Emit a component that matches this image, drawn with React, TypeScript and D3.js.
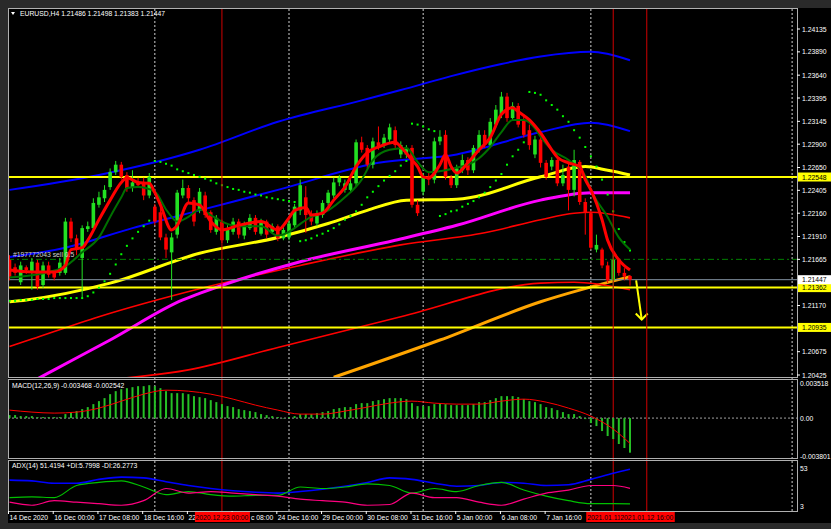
import React from "react";
import * as d3 from "d3";

// ---------- DATA ----------
const symbolTitle = "EURUSD,H4  1.21486 1.21498 1.21383 1.21447";
const macdTitle = "MACD(12,26,9) -0.003468 -0.002542";
const adxTitle = "ADX(14) 51.4194 +DI:5.7998 -DI:26.2773";
const orderLabel = "#197772043 sell 0.5";

const openP = [
  1.2166, 1.2158, 1.2142, 1.2158, 1.2152, 1.2163, 1.2139, 1.2160, 1.2152, 1.2152,
  1.2152, 1.2207, 1.2189, 1.2168, 1.2199, 1.2200, 1.2225, 1.2232, 1.2244, 1.2260,
  1.2268, 1.2257, 1.2243, 1.2249, 1.2249, 1.2235, 1.2223, 1.2217, 1.2190, 1.2174,
  1.2193, 1.2235, 1.2243, 1.2230, 1.2219, 1.2235, 1.2217, 1.2196, 1.2207, 1.2187,
  1.2196, 1.2207, 1.2192, 1.2200, 1.2211, 1.2194, 1.2207, 1.2196, 1.2202, 1.2189,
  1.2190, 1.2203, 1.2219, 1.2233, 1.2214, 1.2205, 1.2214, 1.2227, 1.2235, 1.2249,
  1.2241, 1.2241, 1.2248, 1.2292, 1.2286, 1.2268, 1.2292, 1.2289, 1.2295, 1.2305,
  1.2279, 1.2279, 1.2286, 1.2225, 1.2239, 1.2255, 1.2252, 1.2293, 1.2300, 1.2254,
  1.2246, 1.2262, 1.2273, 1.2262, 1.2284, 1.2300, 1.2289, 1.2311, 1.2322, 1.2341,
  1.2318, 1.2331, 1.2316, 1.2305, 1.2279, 1.2295, 1.2270, 1.2266, 1.2273, 1.2248,
  1.2266, 1.2241, 1.2271, 1.2228, 1.2216, 1.2177, 1.2177, 1.2160, 1.2144, 1.2166,
  1.2152, 1.21486,
];
const highP = [
  1.2171, 1.2162, 1.2164, 1.2160, 1.2168, 1.2166, 1.2164, 1.2164, 1.2155, 1.2168,
  1.2211, 1.2211, 1.2193, 1.2203, 1.2207, 1.2232, 1.2239, 1.2246, 1.2264, 1.2272,
  1.2271, 1.2260, 1.2262, 1.2254, 1.2254, 1.2259, 1.2226, 1.2222, 1.2194, 1.2195,
  1.2241, 1.2252, 1.2246, 1.2233, 1.2243, 1.2239, 1.2219, 1.2214, 1.2209, 1.2203,
  1.2211, 1.2210, 1.2207, 1.2215, 1.2214, 1.2210, 1.2209, 1.2205, 1.2204, 1.2201,
  1.2209, 1.2226, 1.2252, 1.2245, 1.2219, 1.2219, 1.2230, 1.2241, 1.2254, 1.2257,
  1.2252, 1.2254, 1.2295, 1.2298, 1.2289, 1.2297, 1.2309, 1.2301, 1.2312, 1.2309,
  1.2293, 1.2289, 1.2289, 1.2230, 1.2259, 1.2260, 1.2297, 1.2305, 1.2305, 1.2257,
  1.2268, 1.2279, 1.2276, 1.2289, 1.2305, 1.2305, 1.2318, 1.2332, 1.2346, 1.2345,
  1.2335, 1.2334, 1.2322, 1.2311, 1.2299, 1.2299, 1.2273, 1.2276, 1.2276, 1.2268,
  1.2269, 1.2284, 1.2273, 1.2232, 1.2219, 1.2193, 1.2179, 1.2164, 1.2173, 1.2168,
  1.2157, 1.21498,
];
const lowP = [
  1.2144, 1.2149, 1.2139, 1.2151, 1.2134, 1.2134, 1.2136, 1.2147, 1.2144, 1.2149,
  1.2150, 1.2185, 1.2171, 1.2126, 1.2196, 1.2198, 1.2222, 1.2228, 1.2241, 1.2257,
  1.2252, 1.2239, 1.2239, 1.2243, 1.2230, 1.2232, 1.2203, 1.2187, 1.2168, 1.2123,
  1.2189, 1.2232, 1.2228, 1.2202, 1.2216, 1.2211, 1.2195, 1.2193, 1.2184, 1.2184,
  1.2193, 1.2189, 1.2188, 1.2198, 1.2193, 1.2192, 1.2189, 1.2194, 1.2186, 1.2187,
  1.2187, 1.2200, 1.2214, 1.2195, 1.2203, 1.2202, 1.2211, 1.2224, 1.2232, 1.2245,
  1.2238, 1.2238, 1.2245, 1.2281, 1.2264, 1.2264, 1.2284, 1.2286, 1.2292, 1.2286,
  1.2275, 1.2275, 1.2222, 1.2213, 1.2235, 1.2246, 1.2248, 1.2289, 1.2252, 1.2243,
  1.2243, 1.2259, 1.2257, 1.2259, 1.2281, 1.2286, 1.2286, 1.2308, 1.2318, 1.2314,
  1.2315, 1.2308, 1.2297, 1.2284, 1.2275, 1.2265, 1.2252, 1.2262, 1.2245, 1.2245,
  1.2219, 1.2234, 1.2225, 1.2193, 1.2177, 1.2174, 1.2157, 1.2141, 1.2134, 1.2149,
  1.2144, 1.21383,
];
const closeP = [
  1.2148, 1.2152, 1.2160, 1.2155, 1.2164, 1.2137, 1.2160, 1.2150, 1.2147, 1.2163,
  1.2207, 1.2189, 1.2177, 1.2200, 1.2202, 1.2227, 1.2233, 1.2241, 1.2260, 1.2268,
  1.2255, 1.2243, 1.2249, 1.2246, 1.2235, 1.2255, 1.2207, 1.2190, 1.2177, 1.2190,
  1.2238, 1.2243, 1.2232, 1.2207, 1.2239, 1.2214, 1.2198, 1.2211, 1.2187, 1.2200,
  1.2207, 1.2193, 1.2203, 1.2211, 1.2196, 1.2207, 1.2193, 1.2202, 1.2189, 1.2198,
  1.2205, 1.2223, 1.2246, 1.2214, 1.2207, 1.2216, 1.2227, 1.2238, 1.2249, 1.2254,
  1.2248, 1.2248, 1.2292, 1.2284, 1.2268, 1.2293, 1.2288, 1.2297, 1.2308, 1.2289,
  1.2289, 1.2286, 1.2225, 1.2216, 1.2255, 1.2252, 1.2293, 1.2298, 1.2255, 1.2246,
  1.2264, 1.2273, 1.2262, 1.2286, 1.2300, 1.2289, 1.2314, 1.2327, 1.2341, 1.2318,
  1.2331, 1.2311, 1.2300, 1.2289, 1.2295, 1.2270, 1.2255, 1.2273, 1.2248, 1.2257,
  1.2241, 1.2273, 1.2228, 1.2217, 1.2179, 1.2182, 1.2160, 1.2144, 1.2166, 1.2152,
  1.2148, 1.21447,
];

// moving averages read at selected bars
const fastMaBars = [0, 4, 8, 10, 11, 13, 14, 16, 18, 20, 21, 23, 25, 26, 27, 29, 30, 32, 34, 36, 38, 41, 45, 48, 50, 51, 53, 54, 56, 58, 60, 62, 64, 66, 69, 70, 72, 73, 74, 75, 77, 78, 79, 80, 82, 84, 86, 88, 90, 91, 93, 95, 97, 98, 100, 102, 103, 104, 106, 107, 109, 111];
const fastMaVals = [1.2155, 1.2153, 1.2153, 1.2160, 1.2177, 1.2179, 1.2187, 1.2209, 1.2230, 1.2249, 1.2254, 1.2249, 1.2248, 1.2238, 1.2225, 1.2198, 1.2203, 1.2227, 1.2225, 1.2207, 1.2198, 1.2203, 1.2207, 1.2198, 1.2211, 1.2219, 1.2222, 1.2214, 1.2216, 1.2230, 1.2244, 1.2266, 1.2281, 1.2287, 1.2292, 1.2287, 1.2273, 1.2266, 1.2255, 1.2254, 1.2268, 1.2279, 1.2266, 1.2259, 1.2270, 1.2284, 1.2297, 1.2322, 1.2329, 1.2325, 1.2316, 1.2302, 1.2284, 1.2276, 1.2270, 1.2266, 1.2252, 1.2241, 1.2209, 1.2187, 1.2166, 1.2155];
const slowMaBars = [0, 7, 10, 13, 16, 18, 20, 21, 23, 26, 28, 29, 30, 32, 34, 36, 38, 41, 45, 48, 54, 57, 60, 63, 65, 68, 71, 73, 75, 78, 80, 82, 84, 86, 88, 90, 92, 94, 95, 97, 100, 103, 104, 107, 109, 111];
const slowMaVals = [1.2147, 1.2153, 1.2159, 1.2174, 1.2190, 1.2212, 1.2233, 1.2243, 1.2244, 1.2239, 1.2220, 1.2212, 1.2207, 1.2212, 1.2220, 1.2214, 1.2207, 1.2202, 1.2202, 1.2192, 1.2212, 1.2219, 1.2233, 1.2252, 1.2273, 1.2284, 1.2286, 1.2271, 1.2260, 1.2262, 1.2265, 1.2268, 1.2275, 1.2287, 1.2303, 1.2316, 1.2316, 1.2307, 1.2298, 1.2284, 1.2273, 1.2256, 1.2241, 1.2212, 1.2190, 1.2177];

const upperBlueBars = [0, 16, 34, 48, 63, 70, 79, 88, 95, 104, 111];
const upperBlueVals = [1.2241, 1.2257, 1.2284, 1.2314, 1.2337, 1.2348, 1.2363, 1.2376, 1.2384, 1.2389, 1.2380];
const lowerBlueBars = [0, 10, 22, 34, 48, 66, 80, 95, 104, 111];
const lowerBlueVals = [1.2169, 1.2179, 1.2200, 1.2219, 1.2241, 1.2270, 1.2279, 1.2303, 1.2313, 1.2304];
const yellowBars = [0, 3, 18, 34, 48, 57, 64, 71, 80, 95, 103, 107, 111];
const yellowVals = [1.2121, 1.2123, 1.2141, 1.2173, 1.2190, 1.2205, 1.2219, 1.2230, 1.2231, 1.2255, 1.2266, 1.2262, 1.2257];
const magentaBars = [3, 8, 18, 31, 34, 52, 69, 80, 95, 104, 111];
const magentaVals = [1.2032, 1.2048, 1.2080, 1.2123, 1.2130, 1.2164, 1.2187, 1.2203, 1.2230, 1.2238, 1.2238];
const redUpperBars = [0, 4, 16, 34, 52, 70, 85, 95, 101, 104, 111];
const redUpperVals = [1.2073, 1.2081, 1.2105, 1.2135, 1.2160, 1.2182, 1.2195, 1.2209, 1.2216, 1.2217, 1.2211];
const redLowerBars = [14, 32, 48, 70, 95, 101, 111];
const redLowerVals = [1.2036, 1.2048, 1.2072, 1.2105, 1.2141, 1.2142, 1.2134];
const orangeBars = [58, 77, 95, 111];
const orangeVals = [1.2040, 1.2080, 1.2121, 1.2148];

// parabolic SAR (bar, price)
const sarBars = [
  0, 1, 2, 3, 4, 5, 6, 7, 8, 9, 10, 11, 12, 13, 14, 15, 16, 17, 18, 19, 20, 21, 22, 23, 24, 25,
  26, 27, 28, 29, 30, 31, 32, 33, 34, 35, 36, 37, 38, 39, 40, 41, 42, 43, 44, 45, 46, 47, 48, 49, 50, 51,
  52, 53, 54, 55, 56, 57, 58, 59, 60, 61, 62, 63, 64, 65, 66, 67, 68, 69, 70, 71,
  72, 73, 74, 75, 76, 77, 78, 79, 80, 81, 82, 83, 84, 85, 86, 87, 88, 89, 90, 91, 92,
  93, 94, 95, 96, 97, 98, 99, 100, 101, 102, 103, 104, 105, 106, 107, 108, 109, 110, 111,
];
const sarVals = [
  1.2122, 1.2122, 1.2123, 1.2123, 1.2123, 1.2124, 1.2124, 1.2124, 1.2125, 1.2125, 1.2125, 1.2125, 1.2125,
  1.2125, 1.2127, 1.2131, 1.2136, 1.2143, 1.2151, 1.2161, 1.2172, 1.2181, 1.2189, 1.2196, 1.2202, 1.2208,
  1.2272, 1.2271, 1.2269, 1.2267, 1.2263, 1.2261, 1.2259, 1.2257, 1.2255, 1.2253, 1.2251, 1.2248, 1.2246,
  1.2244, 1.2242, 1.2241, 1.2239, 1.2238, 1.2236, 1.2235, 1.2233, 1.2232, 1.2231, 1.2230, 1.2229, 1.2228,
  1.2186, 1.2187, 1.2189, 1.2192, 1.2194, 1.2197, 1.2200, 1.2204, 1.2209, 1.2213, 1.2218, 1.2225, 1.2233,
  1.2239, 1.2245, 1.2251, 1.2256, 1.2261, 1.2267, 1.2272,
  1.2312, 1.2311, 1.2309, 1.2306, 1.2304, 1.2213, 1.2215, 1.2218, 1.2219, 1.2223, 1.2226, 1.2229, 1.2233,
  1.2238, 1.2244, 1.2251, 1.2258, 1.2268, 1.2277, 1.2284, 1.2292,
  1.2346, 1.2345, 1.2343, 1.2337, 1.2332, 1.2327, 1.2320, 1.2314, 1.2305, 1.2297, 1.2287, 1.2277, 1.2266,
  1.2252, 1.2236, 1.2218, 1.2199, 1.2185, 1.2176,
];

// MACD main (histogram) and signal
const macdMain = [
  0.0003, 0.0003, 0.0002, 0.0002, 0.0002, 0.0001, 0.0001, 0.0001, 0.0001, 0.0001,
  0.0004, 0.0006, 0.0007, 0.0009, 0.0011, 0.0014, 0.0017, 0.0020, 0.0024, 0.0027,
  0.0029, 0.0030, 0.0031, 0.0032, 0.0032, 0.0033, 0.0032, 0.0030, 0.0027, 0.0025,
  0.0025, 0.0025, 0.0024, 0.0022, 0.0021, 0.0020, 0.0018, 0.0016, 0.0014, 0.0012,
  0.0011, 0.0009, 0.0008, 0.0007, 0.0006, 0.0004, 0.0003, 0.0002, 0.0001, 0.0000,
  0.0001, 0.0002, 0.0004, 0.0004, 0.0004, 0.0005, 0.0006, 0.0007, 0.0009, 0.0010,
  0.0011, 0.0011, 0.0014, 0.0015, 0.0015, 0.0017, 0.0018, 0.0019, 0.0020, 0.0020,
  0.0020, 0.0019, 0.0015, 0.0012, 0.0012, 0.0012, 0.0014, 0.0015, 0.0014, 0.0013,
  0.0013, 0.0013, 0.0013, 0.0014, 0.0016, 0.0016, 0.0018, 0.0020, 0.0022, 0.0022,
  0.0022, 0.0021, 0.0019, 0.0017, 0.0016, 0.0014, 0.0011, 0.0010, 0.0008, 0.0006,
  0.0004, 0.0004, 0.0002, -0.0001, -0.0005, -0.0008, -0.0013, -0.0018, -0.0021, -0.0026,
  -0.0030, -0.003468,
];
const sigBars = [0, 4, 8, 12, 16, 20, 24, 28, 32, 36, 40, 44, 48, 52, 56, 60, 64, 68, 72, 76, 80, 84, 88, 92, 96, 100, 104, 108, 111];
const sigVals = [0.0008, 0.0006, 0.0005, 0.0006, 0.0010, 0.0017, 0.0024, 0.0028, 0.0027, 0.0024, 0.0019, 0.0013, 0.0008, 0.0004, 0.0004, 0.0007, 0.0011, 0.0015, 0.0017, 0.0015, 0.0014, 0.0014, 0.0017, 0.0019, 0.0016, 0.0010, 0.0002, -0.0011, -0.002542];

// ADX(14)
const adxBars = sigBars;
const adxVals = [37, 36, 33, 33, 38, 41, 40, 35, 30, 26, 23, 21, 20, 22, 25, 29, 34, 40, 38, 33, 29, 30, 34, 33, 30, 31, 38, 46, 51.4194];
const plusDiVals = [14, 15, 14, 30, 34, 36, 28, 18, 22, 18, 16, 17, 17, 28, 26, 28, 32, 30, 20, 26, 22, 30, 34, 24, 16, 10, 6, 6, 5.7998];
const minusDiVals = [8, 4, 10, 8, 6, 4, 10, 26, 20, 22, 20, 18, 16, 12, 10, 8, 4, 5, 20, 14, 14, 8, 4, 12, 20, 24, 30, 30, 26.2773];

// axis
const priceTicks = [1.24135, 1.2389, 1.2364, 1.23395, 1.23145, 1.229, 1.2265, 1.22405, 1.2216, 1.2191, 1.21665, 1.2117, 1.20675, 1.20425];
const timeTickBars = [0, 8, 16, 24, 48, 56, 64, 72, 80, 88, 96];
const timeTickLabels = ["14 Dec 2020", "16 Dec 00:00", "17 Dec 08:00", "18 Dec 16:00", "24 Dec 16:00", "29 Dec 00:00", "30 Dec 08:00", "31 Dec 16:00", "5 Jan 00:00", "6 Jan 08:00", "7 Jan 16:00"];
// labels partly hidden behind the red vertical-line labels
const hiddenTickBars = [32, 40];
const hiddenTickParts = ["22", "c 08:00"];
const separatorBars = [26, 50, 74, 104, 140];
const vlineBars = [38, 108, 114];
const vlineLabels = ["2020.12.23 00:00", "2021.01.11", "2021.01.12 16:00"];
const hLevels = [1.22548, 1.21362, 1.20935];
const orderLevel = 1.21665;
const bidLevel = 1.21447;
const macdScaleTicks = [0.003518, 0, -0.003801];
const macdScaleLabels = ["0.003518", "0.00", "-0.003801"];
const adxScaleTicks = [53, 3];
const arrowFrom = [112.1, 1.2144];
const arrowTo = [113.1, 1.2102];

// ---------- LAYOUT ----------
const W = 831, H = 529;
const L = 8, R = 797;
const mainT = 8, mainB = 377;
const macdT = 379, macdB = 458;
const adxT = 460, adxB = 511;
const FONT = "'Liberation Sans', Arial, sans-serif";
const FS = 6.8;

export default function App() {
  const x = d3.scaleLinear().domain([0, 111]).range([9.5, 630]);
  const y = d3.scaleLinear().domain([1.20425, 1.24135]).range([375, 29]);
  const ym = d3.scaleLinear().domain([-0.003801, 0.003518]).range([456, 383]);
  const ya = d3.scaleLinear().domain([3, 53]).range([506, 468]);

  const mk = (bars: number[], vals: number[], ys: any) =>
    d3.line<number>().x((_, i) => x(bars[i])).y((v) => ys(v)).curve(d3.curveMonotoneX)(vals) || "";

  const idx = d3.range(openP.length);

  return (
    <svg width={W} height={H} style={{ position: "fixed", left: 0, top: 0, display: "block" }} fontFamily={FONT}>
      <defs>
        <clipPath id="cmain"><rect x={L + 1} y={mainT + 1} width={R - L - 1} height={mainB - mainT - 1} /></clipPath>
        <clipPath id="cmacd"><rect x={L + 1} y={macdT + 1} width={R - L - 1} height={macdB - macdT - 1} /></clipPath>
        <clipPath id="cadx"><rect x={L + 1} y={adxT + 1} width={R - L - 1} height={adxB - adxT - 1} /></clipPath>
      </defs>
      <rect x={0} y={0} width={W} height={H} fill="#2a2a2a" />
      <rect x={L} y={mainT} width={W - L} height={523 - mainT} fill="#000" />

      {separatorBars.map((b, i) => (
        <line key={"s" + i} x1={x(b)} x2={x(b)} y1={mainT + 1} y2={adxB} stroke="#d0d0d0" strokeWidth={1} strokeDasharray="2,2" />
      ))}

      {/* main panel */}
      <g clipPath="url(#cmain)">
        <path d={mk(orangeBars, orangeVals, y)} fill="none" stroke="#ffa500" strokeWidth={3} />
        <path d={mk(redLowerBars, redLowerVals, y)} fill="none" stroke="#ff0000" strokeWidth={1.6} />
        <path d={mk(redUpperBars, redUpperVals, y)} fill="none" stroke="#ff0000" strokeWidth={1.6} />
        <path d={mk(magentaBars, magentaVals, y)} fill="none" stroke="#ff00ff" strokeWidth={3} />
        <path d={mk(yellowBars, yellowVals, y)} fill="none" stroke="#ffff00" strokeWidth={3} />
        <path d={mk(upperBlueBars, upperBlueVals, y)} fill="none" stroke="#0000ff" strokeWidth={2} />
        <path d={mk(lowerBlueBars, lowerBlueVals, y)} fill="none" stroke="#0000ff" strokeWidth={2} />

        {hLevels.map((v, i) => (
          <line key={"h" + i} x1={L} x2={R} y1={y(v)} y2={y(v)} stroke="#ffff00" strokeWidth={2} />
        ))}
        <line x1={L} x2={R} y1={y(orderLevel)} y2={y(orderLevel)} stroke="#008000" strokeWidth={1} strokeDasharray="6,3,2,3" />
        <line x1={L} x2={R} y1={y(bidLevel)} y2={y(bidLevel)} stroke="#8090a0" strokeWidth={1} />

        {sarBars.map((b, i) => (
          <rect key={"p" + i} x={x(b) - 1} y={y(sarVals[i]) - 1} width={2} height={2} fill="#00ff00" />
        ))}

        {idx.map((i) => {
          const up = closeP[i] >= openP[i];
          const col = up ? "#22e022" : "#ff0000";
          const top = y(Math.max(openP[i], closeP[i]));
          const bot = y(Math.min(openP[i], closeP[i]));
          return (
            <g key={"c" + i}>
              <line x1={x(i)} x2={x(i)} y1={y(highP[i])} y2={y(lowP[i])} stroke={col} strokeWidth={1} />
              <rect x={x(i) - 1.8} y={top} width={3.6} height={Math.max(1, bot - top)} fill={col} />
            </g>
          );
        })}

        <path d={mk(slowMaBars, slowMaVals, y)} fill="none" stroke="#007000" strokeWidth={2} />
        <path d={mk(fastMaBars, fastMaVals, y)} fill="none" stroke="#ff0000" strokeWidth={3} />

        <line x1={x(arrowFrom[0])} y1={y(arrowFrom[1])} x2={x(arrowTo[0])} y2={y(arrowTo[1])} stroke="#ffff00" strokeWidth={2} />
        <polyline
          points={`${x(arrowTo[0]) - 6},${y(arrowTo[1]) - 6} ${x(arrowTo[0])},${y(arrowTo[1])} ${x(arrowTo[0]) + 6},${y(arrowTo[1]) - 6}`}
          fill="none" stroke="#ffff00" strokeWidth={2} />
      </g>

      {vlineBars.map((b, i) => (
        <line key={"v" + i} x1={x(b)} x2={x(b)} y1={mainT + 1} y2={adxB} stroke="#d00000" strokeWidth={1} />
      ))}

      {/* MACD */}
      <g clipPath="url(#cmacd)">
        <line x1={L} x2={R} y1={ym(0)} y2={ym(0)} stroke="#a0a0a0" strokeWidth={1} strokeDasharray="2,2" />
        {idx.map((i) => (
          <rect key={"m" + i} x={x(i) - 1} y={Math.min(ym(0), ym(macdMain[i]))} width={2}
            height={Math.max(0.5, Math.abs(ym(macdMain[i]) - ym(0)))} fill="#26c026" />
        ))}
        <path d={mk(sigBars, sigVals, ym)} fill="none" stroke="#ff0000" strokeWidth={1} />
      </g>

      {/* ADX */}
      <g clipPath="url(#cadx)">
        <path d={mk(adxBars, adxVals, ya)} fill="none" stroke="#0000ff" strokeWidth={1.6} />
        <path d={mk(adxBars, plusDiVals, ya)} fill="none" stroke="#00c000" strokeWidth={1.2} />
        <path d={mk(adxBars, minusDiVals, ya)} fill="none" stroke="#ff0080" strokeWidth={1.2} />
      </g>

      <g fill="none" stroke="#b0b0b0" strokeWidth={1}>
        <rect x={L + 0.5} y={mainT + 0.5} width={R - L} height={mainB - mainT} />
        <rect x={L + 0.5} y={macdT + 0.5} width={R - L} height={macdB - macdT} />
        <rect x={L + 0.5} y={adxT + 0.5} width={R - L} height={adxB - adxT} />
      </g>

      {/* price axis */}
      <g fontSize={FS} fill="#ffffff">
        {priceTicks.map((v, i) => (
          <g key={"pt" + i}>
            <line x1={R} x2={R + 3} y1={y(v)} y2={y(v)} stroke="#ffffff" />
            <text x={R + 5} y={y(v) + 2.5}>{v.toFixed(5)}</text>
          </g>
        ))}
        {hLevels.map((v, i) => (
          <g key={"hl" + i}>
            <rect x={R + 1} y={y(v) - 4.5} width={33} height={9} fill="#ffff00" />
            <text x={R + 5} y={y(v) + 2.5} fill="#000">{v.toFixed(5)}</text>
          </g>
        ))}
        <rect x={R + 1} y={y(bidLevel) - 4.5} width={33} height={9} fill="#ffffff" />
        <text x={R + 5} y={y(bidLevel) + 2.5} fill="#000">{bidLevel.toFixed(5)}</text>
        {macdScaleTicks.map((v, i) => (
          <text key={"ms" + i} x={R + 3} y={ym(v) + 2.5}>{macdScaleLabels[i]}</text>
        ))}
        {adxScaleTicks.map((v, i) => (
          <text key={"as" + i} x={R + 3} y={ya(v) + 2.5}>{String(v)}</text>
        ))}
      </g>

      {/* time axis */}
      <g fontSize={FS} fill="#ffffff">
        {timeTickBars.map((b, i) => (
          <g key={"tt" + i}>
            <line x1={x(b) - 1} x2={x(b) - 1} y1={adxB} y2={adxB + 3} stroke="#ffffff" />
            <text x={x(b)} y={520}>{timeTickLabels[i]}</text>
          </g>
        ))}
        {hiddenTickBars.map((b, i) => (
          <line key={"ht" + i} x1={x(b) - 1} x2={x(b) - 1} y1={adxB} y2={adxB + 3} stroke="#ffffff" />
        ))}
        <text x={x(hiddenTickBars[0])} y={520}>{hiddenTickParts[0]}</text>
        <text x={x(vlineBars[0]) + 29} y={520}>{hiddenTickParts[1]}</text>
        {vlineBars.map((b, i) => (
          <g key={"vl" + i}>
            <rect x={x(b) - 27} y={512} width={55} height={10} fill="#ff0000" />
            <text x={i === 1 ? x(b) - 26 : x(b)} y={520} textAnchor={i === 1 ? "start" : "middle"} fill="#000">{vlineLabels[i]}</text>
          </g>
        ))}
      </g>

      <g fontSize={FS} fill="#ffffff">
        <path d="M11,12 L15,12 L13,15 Z" fill="#ffffff" />
        <text x={20} y={16}>{symbolTitle}</text>
        <text x={13} y={y(orderLevel) - 2} fill="#d0d0d0">{orderLabel}</text>
        <text x={12} y={388}>{macdTitle}</text>
        <text x={12} y={468}>{adxTitle}</text>
      </g>
    </svg>
  );
}
